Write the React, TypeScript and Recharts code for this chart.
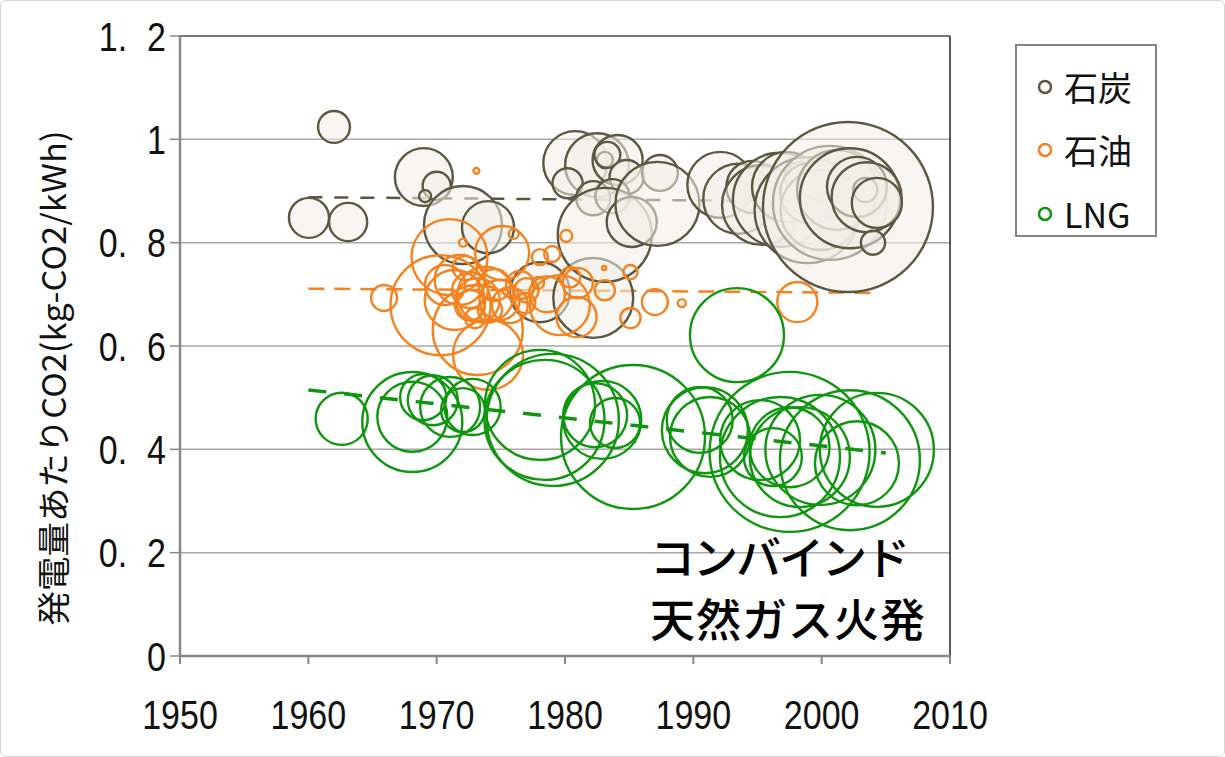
import React from 'react';
import { ScatterChart, Scatter, XAxis, YAxis, CartesianGrid, ReferenceLine, Legend } from 'recharts';

// ---------- data ----------
const X_TICKS = [1950, 1960, 1970, 1980, 1990, 2000, 2010];
const Y_TICKS = [0, 0.2, 0.4, 0.6, 0.8, 1, 1.2];
const Y_LABEL = '発電量あたりCO2(kg-CO2/kWh)';
const NOTE_LINES = ['コンバインド', '天然ガス火発'];
const SERIES_NAMES = ['石炭', '石油', 'LNG'];

// [year, CO2 per kWh, plant size]
const COAL: [number, number, number][] = [
  [1960.05, 0.848, 55], [1962.0, 1.024, 35], [1963.1, 0.84, 50], [1969.0, 0.927, 115],
  [1970.0, 0.91, 27], [1969.1, 0.89, 5], [1972.05, 0.834, 209], [1974.0, 0.83, 93],
  [1978.05, 0.704, 123], [1982.2, 0.693, 219], [1980.8, 0.954, 140], [1982.5, 0.95, 140],
  [1984.1, 0.96, 86], [1983.1, 0.96, 9], [1983.3, 0.97, 23], [1984.8, 0.927, 40],
  [1987.4, 0.935, 44], [1980.2, 0.915, 31], [1982.2, 0.886, 40], [1983.7, 0.89, 40],
  [1983.1, 0.815, 303], [1985.2, 0.84, 86], [1987.2, 0.875, 242], [1992.1, 0.912, 149],
  [1993.5, 0.885, 168], [1994.6, 0.908, 93], [1995.35, 0.873, 219], [1996.75, 0.883, 303],
  [1997.3, 0.908, 168], [1998.3, 0.927, 31], [1998.9, 0.863, 385], [1999.1, 0.896, 123],
  [1999.9, 0.921, 55], [1999.9, 0.863, 219], [2000.65, 0.877, 446], [2001.2, 0.902, 219],
  [2002.05, 0.869, 991], [2002.2, 0.886, 343], [2002.75, 0.908, 123], [2003.4, 0.902, 20],
  [2003.5, 0.888, 168], [2004.0, 0.8, 20], [2004.3, 0.877, 86],
];

const OIL: [number, number, number][] = [
  [1965.9, 0.693, 23], [1970.3, 0.679, 343], [1971.0, 0.772, 198], [1975.1, 0.78, 100],
  [1973.2, 0.631, 278], [1974.0, 0.583, 168], [1973.1, 0.939, 1.2], [1972.05, 0.8, 2.2],
  [1976.0, 0.817, 3.4], [1978.05, 0.772, 8.8], [1979.0, 0.778, 8.8], [1980.1, 0.813, 4.9],
  [1977.0, 0.708, 20], [1976.9, 0.683, 14], [1977.9, 0.722, 5], [1978.6, 0.7, 44],
  [1980.4, 0.733, 14], [1981.0, 0.722, 31], [1980.9, 0.656, 55], [1979.6, 0.679, 123],
  [1983.1, 0.708, 14], [1983.05, 0.751, 0.6], [1985.1, 0.743, 7], [1985.1, 0.654, 14],
  [1987.0, 0.685, 23], [1989.1, 0.683, 2.2], [1998.1, 0.685, 55], [1970.65, 0.718, 55],
  [1971.8, 0.728, 86], [1972.6, 0.708, 44], [1973.2, 0.689, 66], [1972.6, 0.679, 31],
  [1973.8, 0.699, 108], [1974.15, 0.67, 20], [1973.0, 0.654, 14], [1974.5, 0.718, 35],
  [1974.9, 0.689, 55], [1971.4, 0.689, 123], [1972.2, 0.751, 20], [1975.7, 0.679, 44],
  [1976.5, 0.718, 27],
];

const LNG: [number, number, number][] = [
  [1962.6, 0.459, 93], [1968.1, 0.453, 343], [1968.1, 0.463, 168], [1968.95, 0.501, 73],
  [1969.7, 0.495, 86], [1971.05, 0.482, 123], [1972.05, 0.476, 66], [1972.8, 0.482, 108],
  [1978.05, 0.486, 415], [1978.4, 0.457, 494], [1979.05, 0.457, 598], [1982.35, 0.466, 140],
  [1982.9, 0.457, 209], [1983.9, 0.451, 86], [1985.3, 0.424, 711], [1990.5, 0.457, 149],
  [1990.9, 0.437, 254], [1991.3, 0.424, 219], [1993.4, 0.621, 303], [1995.2, 0.418, 219],
  [1996.2, 0.385, 115], [1996.75, 0.385, 494], [1997.5, 0.404, 219], [1997.5, 0.395, 878],
  [1998.3, 0.385, 343], [1999.9, 0.399, 415], [2002.2, 0.379, 672], [2002.75, 0.373, 242],
  [2004.3, 0.399, 446],
];

// trend lines: [year, value] at start and end
const COAL_TREND: [number, number][] = [[1960, 0.888], [2004, 0.879]];
const OIL_TREND: [number, number][] = [[1960, 0.711], [2004, 0.703]];
const LNG_TREND: [number, number][] = [[1960, 0.515], [2005, 0.393]];

// ---------- styles ----------
const COAL_COLOR = '#5C5740';
const OIL_COLOR = '#F5821F';
const LNG_COLOR = '#0F960F';
const BUBBLE_SCALE = 2.7; // radius px per sqrt(size)

const toRows = (arr: [number, number, number][]) => arr.map(([year, value, size]) => ({ year, value, size }));
const toSeg = (arr: [number, number][]) => arr.map(([x, y]) => ({ x, y }));

const makeBubble = (stroke: string, fill: string, fillOpacity: number) => (props: any) => {
  const { cx, cy, payload } = props;
  if (cx == null || cy == null) return <g />;
  const r = BUBBLE_SCALE * Math.sqrt(payload.size);
  return <circle cx={cx} cy={cy} r={r} stroke={stroke} strokeWidth={2.4} fill={fill} fillOpacity={fillOpacity} />;
};

const TICK_FONT = "'Liberation Sans', Arial, sans-serif";

const fmtY = (v: number) => String(Math.round(v * 10) / 10);

const YTick = (props: any) => {
  const { x, y, payload } = props;
  const s = fmtY(payload.value);
  const parts = s.split('.');
  return (
    <g transform={`translate(${x},${y}) scale(0.83,1)`}>
      <text x={0} y={0} dy="0.36em" textAnchor="end" fontFamily={TICK_FONT} fontSize={41} fill="#111">
        {parts.length > 1 ? (
          <>
            <tspan>{parts[0]}.</tspan>
            <tspan dx={24}>{parts[1]}</tspan>
          </>
        ) : (
          s
        )}
      </text>
    </g>
  );
};

const XTick = (props: any) => {
  const { x, y, payload } = props;
  return (
    <g transform={`translate(${x},${y}) scale(0.83,1)`}>
      <text x={0} y={63} textAnchor="middle" fontFamily={TICK_FONT} fontSize={41} fill="#111">
        {payload.value}
      </text>
    </g>
  );
};

const YAxisTitle = (props: any) => {
  const vb = props.viewBox && props.viewBox.height ? props.viewBox : { x: 0, y: 36, width: 180, height: 620 };
  const cx = vb.x + 52;
  const cy = vb.y + vb.height / 2 + 32;
  return (
    <text
      x={cx}
      y={cy}
      transform={`rotate(-90, ${cx}, ${cy})`}
      textAnchor="middle"
      dominantBaseline="central"
      fontSize={33}
      fontFamily="'Noto Sans CJK JP', sans-serif"
      fill="#111"
      textLength={495}
      lengthAdjust="spacingAndGlyphs"
    >
      {Y_LABEL}
    </text>
  );
};

const SERIES_COLORS = [COAL_COLOR, OIL_COLOR, LNG_COLOR];
const ROW_CENTERS = [41, 104, 168];

const LegendBox = () => (
  <div
    style={{
      position: 'relative',
      width: 142,
      height: 193,
      boxSizing: 'border-box',
      border: '2px solid #858585',
      background: '#fff',
      fontFamily: "'Noto Sans CJK JP', sans-serif",
    }}
  >
    {SERIES_NAMES.map((name, i) => (
      <div key={name} style={{ position: 'absolute', left: 0, top: ROW_CENTERS[i] - 24, height: 48, display: 'flex', alignItems: 'center' }}>
        <svg width={16} height={16} style={{ marginLeft: 20 }}>
          <circle cx={8} cy={8} r={6} fill="none" stroke={SERIES_COLORS[i]} strokeWidth={2.5} />
        </svg>
        <span style={{ marginLeft: 11, fontSize: 34, color: '#111', lineHeight: '48px' }}>{name}</span>
      </div>
    ))}
  </div>
);

export default function App() {
  return (
    <div style={{ position: 'absolute', left: 0, top: 0, width: 1225, height: 757, background: '#fff' }}>
      <ScatterChart width={1225} height={757} margin={{ top: 36, right: 275, bottom: 41, left: 0 }}>
        <CartesianGrid vertical={false} stroke="#A8A8A8" strokeWidth={1.5} />
        <XAxis
          type="number"
          dataKey="year"
          domain={[1950, 2010]}
          ticks={X_TICKS}
          height={60}
          tick={<XTick />}
          tickSize={8}
          tickLine={{ stroke: '#888', strokeWidth: 2 }}
          axisLine={{ stroke: '#888', strokeWidth: 2.5 }}
          allowDataOverflow
        />
        <YAxis
          type="number"
          dataKey="value"
          domain={[0, 1.2]}
          ticks={Y_TICKS}
          width={180}
          tick={<YTick />}
          tickSize={10}
          tickMargin={4}
          tickLine={{ stroke: '#888', strokeWidth: 1.5 }}
          axisLine={{ stroke: '#888', strokeWidth: 2.5 }}
          label={{ content: (p: any) => <YAxisTitle {...p} /> }}
          allowDataOverflow
        />
        <ReferenceLine y={1.2} stroke="#333" strokeWidth={1.2} />
        <ReferenceLine x={2010} stroke="#222" strokeWidth={1.5} />
        <Scatter name={SERIES_NAMES[0]} data={toRows(COAL)} shape={makeBubble(COAL_COLOR, '#F1EFE8', 0.55)} isAnimationActive={false} />
        <Scatter name={SERIES_NAMES[1]} data={toRows(OIL)} shape={makeBubble(OIL_COLOR, 'none', 0)} isAnimationActive={false} />
        <Scatter name={SERIES_NAMES[2]} data={toRows(LNG)} shape={makeBubble(LNG_COLOR, 'none', 0)} isAnimationActive={false} />
        <ReferenceLine segment={toSeg(COAL_TREND) as any} stroke={COAL_COLOR} strokeWidth={2.5} strokeDasharray="14 12" />
        <ReferenceLine segment={toSeg(OIL_TREND) as any} stroke={OIL_COLOR} strokeWidth={2.5} strokeDasharray="16 10" />
        <ReferenceLine segment={toSeg(LNG_TREND) as any} stroke={LNG_COLOR} strokeWidth={3.5} strokeDasharray="18 18" />
        <Legend
          layout="vertical"
          align="center"
          verticalAlign="middle"
          wrapperStyle={{ left: 1015, top: 44, width: 142, height: 193 }}
          content={() => <LegendBox />}
        />
      </ScatterChart>
      <div
        style={{
          position: 'absolute',
          left: 650,
          top: 525,
          fontFamily: "'Noto Sans CJK JP', sans-serif",
          fontWeight: 500,
          fontSize: 45,
          color: '#000',
          pointerEvents: 'none',
        }}
      >
        <div style={{ height: 62, lineHeight: '62px', whiteSpace: 'nowrap', letterSpacing: -2 }}>{NOTE_LINES[0]}</div>
        <div style={{ height: 62, lineHeight: '62px', whiteSpace: 'nowrap', letterSpacing: 1 }}>{NOTE_LINES[1]}</div>
      </div>
      <div
        style={{
          position: 'absolute',
          left: 0,
          top: 0,
          width: 1225,
          height: 757,
          boxSizing: 'border-box',
          border: '1px solid #D6D6D6',
          borderRadius: 6,
          pointerEvents: 'none',
        }}
      />
    </div>
  );
}
